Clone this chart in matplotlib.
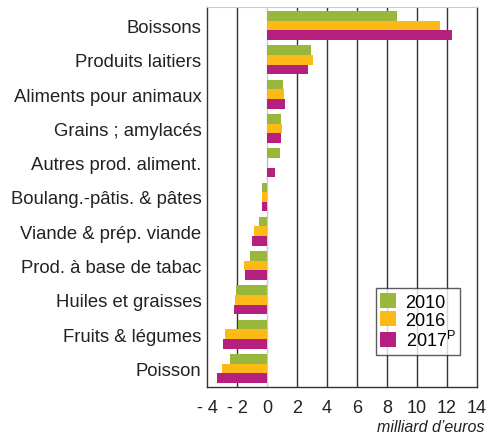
import numpy as np
import matplotlib
matplotlib.use("Agg")
import matplotlib.pyplot as plt

plt.rcParams["font.family"] = ["Liberation Sans", "DejaVu Sans"]
plt.rcParams["mathtext.fontset"] = "custom"
plt.rcParams["mathtext.rm"] = "Liberation Sans"

categories = ["Boissons", "Produits laitiers", "Aliments pour animaux",
              "Grains ; amylacés", "Autres prod. aliment.",
              "Boulang.-pâtis. & pâtes", "Viande & prép. viande",
              "Prod. à base de tabac", "Huiles et graisses",
              "Fruits & légumes", "Poisson"]
v2010 = [8.64, 2.91, 1.04, 0.91, 0.84, -0.36, -0.56, -1.16, -2.09, -1.96, -2.49]
v2016 = [11.51, 3.04, 1.11, 0.98, 0.04, -0.36, -0.89, -1.56, -2.16, -2.82, -3.02]
v2017 = [12.31, 2.71, 1.18, 0.91, 0.51, -0.36, -1.02, -1.49, -2.22, -2.96, -3.36]
series = [("2010", v2010, "#98b73b"),
          ("2016", v2016, "#fbba16"),
          ("2017$^\\mathrm{P}$", v2017, "#b71f7f")]
xticks = [-4, -2, 0, 2, 4, 6, 8, 10, 12, 14]
xlabels = ["- 4", "- 2", "0", "2", "4", "6", "8", "10", "12", "14"]

fig = plt.figure(figsize=(4.88, 4.39), dpi=100)
ax = fig.add_axes([207 / 488, 1 - 388 / 439, 270 / 488, 380 / 439])

y = np.arange(len(categories))
h = 0.28
for i, (lab, vals, col) in enumerate(series):
    ax.barh(y + (i - 1) * h, vals, height=h, color=col, label=lab, zorder=3)

for xv in xticks[1:-1]:
    if xv == 0:
        ax.axvline(xv, color="#cccccc", lw=1.0, zorder=1)
    else:
        ax.axvline(xv, color="#333333", lw=1.0, zorder=1)

ax.set_xlim(-4, 14)
ax.set_ylim(len(categories) - 1 + 0.54, -0.54)
ax.set_yticks(y)
ax.set_yticklabels(categories, fontsize=13.3, color="#222222")
ax.set_xticks(xticks)
ax.set_xticklabels(xlabels, fontsize=13, color="#222222")
ax.tick_params(axis="both", length=0)
ax.tick_params(axis="x", pad=9)
ax.tick_params(axis="y", pad=4)
for s in ["left", "right", "bottom"]:
    ax.spines[s].set_color("#333333")
    ax.spines[s].set_linewidth(1.0)
ax.spines["top"].set_color("#cccccc")

leg = ax.legend(loc="lower right", bbox_to_anchor=(0.937, 0.085),
                fontsize=13, frameon=True, fancybox=False,
                handlelength=0.9, handleheight=0.9, handletextpad=0.5,
                labelspacing=0.05, borderpad=0.25, borderaxespad=0)
leg.get_frame().set_edgecolor("#333333")
leg.get_frame().set_linewidth(1.0)

fig.text(484 / 488, 1 - 428 / 439, "milliard d\u2019euros", style="italic",
         fontsize=11.5, ha="right", va="center", color="#222222")

fig.savefig("out.png", dpi=100)
